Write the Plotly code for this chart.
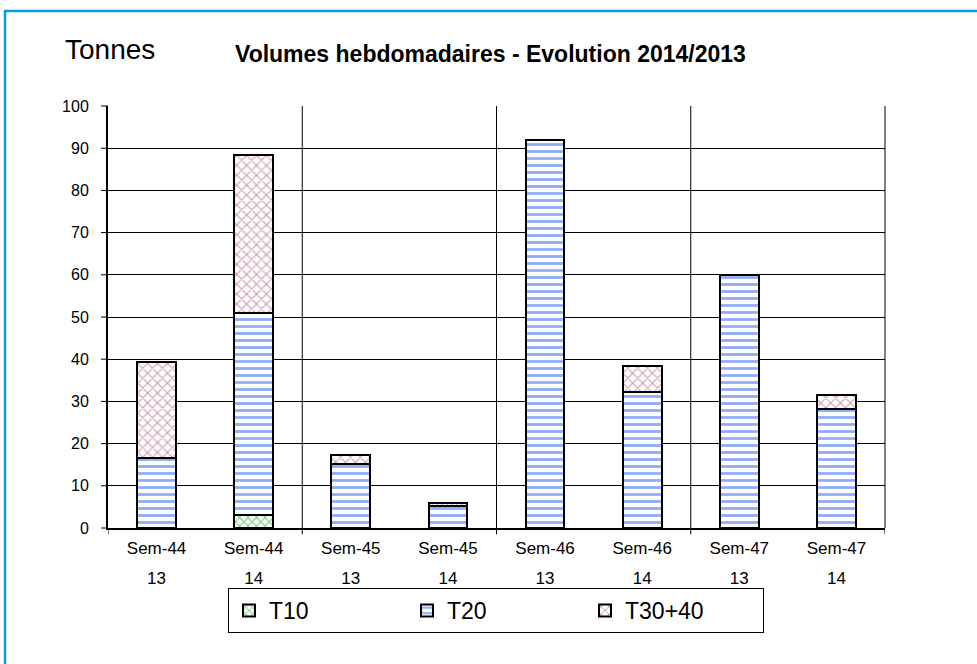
import plotly.graph_objects as go

weeks = ["Sem-44", "Sem-44", "Sem-45", "Sem-45", "Sem-46", "Sem-46", "Sem-47", "Sem-47"]
years = ["13", "14", "13", "14", "13", "14", "13", "14"]
categories = [w + " " + y for w, y in zip(weeks, years)]
t10 = [0, 3, 0, 0, 0, 0, 0, 0]
t20 = [16.5, 48, 15.2, 5.3, 92, 32.3, 60, 28.3]
t30_40 = [22.8, 37.3, 2.0, 0.7, 0, 6.0, 0, 3.2]
y_ticks = [0, 10, 20, 30, 40, 50, 60, 70, 80, 90, 100]
Y_MIN, Y_MAX = 0, 100

FONT = "Liberation Sans, Arial, sans-serif"

fig = go.Figure()
fig.add_trace(go.Bar(
    x=categories, y=t10, name="T10",
    marker=dict(color="white", line=dict(color="black", width=2),
                pattern=dict(shape="x", fgcolor="#2e9e2e", bgcolor="white",
                             size=6, solidity=0.4)),
))
fig.add_trace(go.Bar(
    x=categories, y=t20, name="T20",
    marker=dict(color="white", line=dict(color="black", width=2),
                pattern=dict(shape="-", fgcolor="#2255ff", bgcolor="white",
                             size=7, solidity=0.4)),
))
fig.add_trace(go.Bar(
    x=categories, y=t30_40, name="T30+40",
    marker=dict(color="white", line=dict(color="black", width=2),
                pattern=dict(shape="x", fgcolor="#993366", bgcolor="white",
                             size=7, solidity=0.3)),
))
# invisible helper trace carrying the second line of category labels
fig.add_trace(go.Scatter(
    x=categories, y=[None] * len(categories), xaxis="x2", mode="markers",
    showlegend=False, hoverinfo="skip",
))

L, R, T, B = 108, 885, 106, 528
def px(x):
    return (x - L) / (R - L)
def py(y):
    return (B - y) / (B - T)

shapes = []
for xb in [1.5, 3.5, 5.5]:
    shapes.append(dict(type="line", xref="x", yref="paper", x0=xb, x1=xb,
                       y0=-0.015, y1=1, line=dict(color="black", width=1)))
for xb in [-0.5, 7.5]:
    shapes.append(dict(type="line", xref="x", yref="paper", x0=xb, x1=xb,
                       y0=-0.015, y1=0, line=dict(color="black", width=1)))
shapes.append(dict(type="line", xref="paper", yref="paper", x0=1, x1=1, y0=0, y1=1,
                   line=dict(color="black", width=1)))
# y tick marks (outside the plot area, so paper-referenced)
for yt in y_ticks:
    fy = (yt - Y_MIN) / (Y_MAX - Y_MIN)
    shapes.append(dict(type="line", xref="paper", yref="paper", x0=px(101), x1=0,
                       y0=fy, y1=fy, line=dict(color="black", width=1)))
# outer blue frame (top and left)
shapes.append(dict(type="line", xref="paper", yref="paper",
                   x0=px(4), x1=px(980), y0=py(11), y1=py(11),
                   line=dict(color="#00a0e6", width=2.5)))
shapes.append(dict(type="line", xref="paper", yref="paper",
                   x0=px(5), x1=px(5), y0=py(10), y1=py(670),
                   line=dict(color="#00a0e6", width=2.5)))

fig.update_layout(
    width=977, height=664,
    barmode="stack", bargap=0.6,
    paper_bgcolor="white", plot_bgcolor="white",
    margin=dict(l=L, r=977 - R, t=T, b=664 - B),
    font=dict(family=FONT, size=16, color="black"),
    showlegend=True,
    legend=dict(orientation="h", x=px(228), y=py(588), xanchor="left", yanchor="top",
                bordercolor="black", borderwidth=1, bgcolor="white",
                font=dict(size=23, family=FONT),
                entrywidth=133, entrywidthmode="pixels",
                traceorder="normal", itemwidth=30),
    shapes=shapes,
    annotations=[
        dict(text="Tonnes", xref="paper", yref="paper", x=px(63), y=py(50),
             xanchor="left", yanchor="middle", showarrow=False,
             font=dict(size=28, family=FONT)),
        dict(text="<b>Volumes hebdomadaires - Evolution 2014/2013</b>",
             xref="paper", yref="paper", x=px(490), y=py(54),
             xanchor="center", yanchor="middle", showarrow=False,
             font=dict(size=23, family=FONT)),
    ],
    xaxis=dict(showline=True, linecolor="black", linewidth=2, ticks="",
               tickvals=categories, ticktext=weeks, tickfont=dict(size=17),
               ticklabelstandoff=4, range=[-0.5, 7.5]),
    xaxis2=dict(overlaying="x", anchor="y", side="bottom", matches="x",
                showline=False, showgrid=False, ticks="",
                tickvals=categories, ticktext=years, tickfont=dict(size=17),
                ticklabelstandoff=38),
)
fig.update_yaxes(range=[Y_MIN, Y_MAX], tickvals=y_ticks, showgrid=True, gridcolor="black",
                 gridwidth=1, showline=True, linecolor="black", linewidth=2,
                 ticks="", zeroline=False, tickfont=dict(size=16, family=FONT),
                 ticklabelstandoff=14)

fig.write_html("out.html", config={"displayModeBar": False},
               post_script="document.body.style.margin='0';")
